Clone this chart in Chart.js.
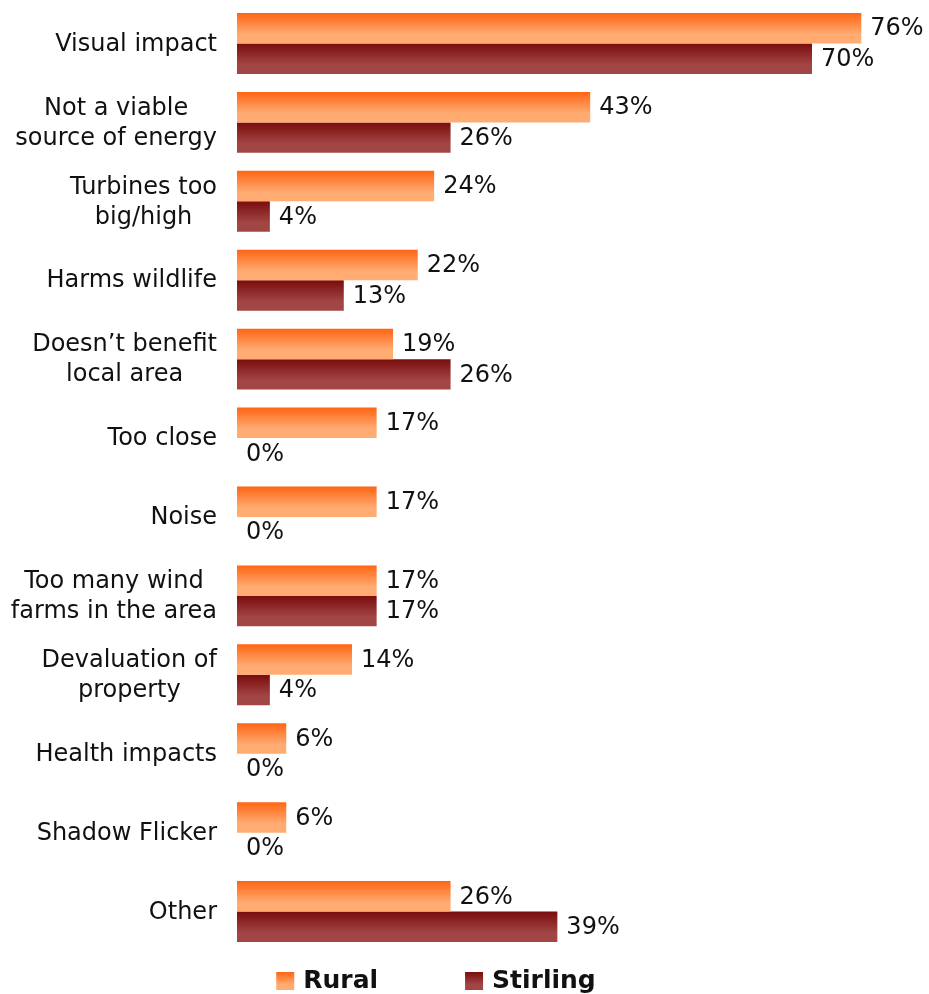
<!DOCTYPE html>
<html>
<head>
<meta charset="utf-8">
<script src="https://cdn.jsdelivr.net/npm/chart.js@4.4.1/dist/chart.umd.min.js"></script>
<style>
  html, body { margin: 0; padding: 0; background: #ffffff; }
  #wrap { width: 929px; height: 994px; position: relative; }
</style>
</head>
<body>
<div id="wrap"><canvas id="c"></canvas></div>
<script>
// Reasons given for opposing wind farms, % of respondents
const categories = [
  ["Visual impact"],
  ["Not a viable", "source of energy"],
  ["Turbines too", "big/high"],
  ["Harms wildlife"],
  ["Doesn\u2019t benefit", "local area"],
  ["Too close"],
  ["Noise"],
  ["Too many wind", "farms in the area"],
  ["Devaluation of", "property"],
  ["Health impacts"],
  ["Shadow Flicker"],
  ["Other"]
];
const seriesNames = ["Rural", "Stirling"];
const rural    = [76, 43, 24, 22, 19, 17, 17, 17, 14, 6, 6, 26];
const stirling = [70, 26,  4, 13, 26,  0,  0, 17,  4, 0, 0, 39];

const FONT = '"DejaVu Sans", Verdana, sans-serif';
const TEXT = '#111111';
// top / bottom colours of each series' vertical gradient
const shades = [
  { top: '#ff6512', bottom: '#ffab72' },
  { top: '#7a0c0c', bottom: '#a24545' }
];

function barGradient(ctx, top, bottom, shade) {
  const g = ctx.createLinearGradient(0, top, 0, bottom);
  g.addColorStop(0, shade.top);
  g.addColorStop(0.7, shade.bottom);
  g.addColorStop(1, shade.bottom);
  return g;
}

// Give every bar its own top-to-bottom gradient
const gradientBars = {
  id: 'gradientBars',
  beforeDatasetsDraw(chart) {
    const ctx = chart.ctx;
    chart.data.datasets.forEach((ds, di) => {
      chart.getDatasetMeta(di).data.forEach(el => {
        const top = el.y - el.height / 2;
        const bot = el.y + el.height / 2;
        el.options = Object.assign({}, el.options, {
          backgroundColor: barGradient(ctx, top, bot, shades[di])
        });
      });
    });
  }
};

// Percentage label just past the end of each bar
const valueLabels = {
  id: 'valueLabels',
  afterDatasetsDraw(chart) {
    const ctx = chart.ctx;
    ctx.save();
    ctx.font = '24px ' + FONT;
    ctx.fillStyle = TEXT;
    ctx.textAlign = 'left';
    ctx.textBaseline = 'middle';
    chart.data.datasets.forEach((ds, di) => {
      chart.getDatasetMeta(di).data.forEach((el, i) => {
        ctx.fillText(ds.data[i] + '%', el.x + 9, el.y + 1);
      });
    });
    ctx.restore();
  }
};

// Category names: block right-aligned to the axis, lines centred within the block
const categoryLabels = {
  id: 'categoryLabels',
  afterDraw(chart) {
    const ctx = chart.ctx;
    const y = chart.scales.y;
    const right = chart.chartArea.left - 20;
    const lineH = 30;
    ctx.save();
    ctx.font = '24px ' + FONT;
    ctx.fillStyle = TEXT;
    ctx.textAlign = 'center';
    ctx.textBaseline = 'middle';
    chart.data.labels.forEach((lines, i) => {
      const cy = y.getPixelForValue(i);
      const w = Math.max(...lines.map(l => ctx.measureText(l).width));
      const cx = right - w / 2;
      const y0 = cy - (lines.length - 1) * lineH / 2;
      lines.forEach((l, k) => ctx.fillText(l, cx, y0 + k * lineH + 1));
    });
    ctx.restore();
  }
};

// Legend along the bottom with gradient swatches
const bottomLegend = {
  id: 'bottomLegend',
  afterDraw(chart) {
    const ctx = chart.ctx;
    const box = 18, gapText = 9, gapItem = 87;
    const cy = chart.chartArea.bottom + 30;
    ctx.save();
    ctx.font = 'bold 25px ' + FONT;
    ctx.textBaseline = 'middle';
    ctx.textAlign = 'left';
    const widths = seriesNames.map(n => ctx.measureText(n).width);
    let total = 0;
    widths.forEach((w, i) => { total += box + gapText + w + (i ? gapItem : 0); });
    let x = 436 - total / 2;
    seriesNames.forEach((name, i) => {
      ctx.fillStyle = barGradient(ctx, cy - box / 2, cy + box / 2, shades[i]);
      ctx.fillRect(x, cy - box / 2, box, box);
      ctx.fillStyle = TEXT;
      ctx.fillText(name, x + box + gapText, cy);
      x += box + gapText + widths[i] + gapItem;
    });
    ctx.restore();
  }
};

new Chart(document.getElementById('c'), {
  type: 'bar',
  data: {
    labels: categories,
    datasets: [
      { label: seriesNames[0], data: rural, backgroundColor: shades[0].bottom,
        categoryPercentage: 0.772, barPercentage: 1 },
      { label: seriesNames[1], data: stirling, backgroundColor: shades[1].bottom,
        categoryPercentage: 0.772, barPercentage: 1 }
    ]
  },
  options: {
    indexAxis: 'y',
    responsive: true,
    maintainAspectRatio: false,
    animation: false,
    layout: { padding: { left: 237, right: 2, top: 4, bottom: 43 } },
    scales: {
      x: { display: false, min: 0, max: 84 },
      y: { display: false }
    },
    plugins: {
      legend: { display: false },
      tooltip: { enabled: false }
    }
  },
  plugins: [gradientBars, valueLabels, categoryLabels, bottomLegend]
});
</script>
</body>
</html>
